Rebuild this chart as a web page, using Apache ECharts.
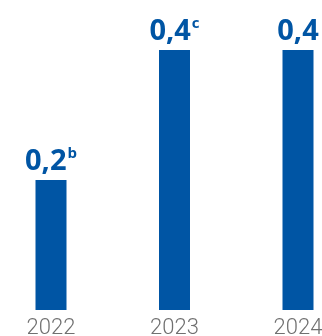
<!DOCTYPE html>
<html>
<head>
<meta charset="utf-8">
<script src="https://cdn.jsdelivr.net/npm/echarts@6/dist/echarts.min.js"></script>
<style>
  html, body { margin: 0; padding: 0; background: #fff; }
  #chart { width: 322px; height: 336px; }
</style>
</head>
<body>
<div id="chart"></div>
<script>
// data
const years = ['2022', '2023', '2024'];
const values = [0.2, 0.4, 0.4];
const labels = ['0,2', '0,4', '0,4'];
const notes = ['b', 'c', ''];

const blue = '#0055a4';

let myChart = echarts.init(document.getElementById('chart'));
myChart.setOption({
  animation: false,
  grid: { left: 51, right: 24, top: 50, bottom: 26, outerBoundsMode: 'none' },
  xAxis: {
    type: 'category',
    boundaryGap: false,
    data: years,
    axisLine: { show: false },
    axisTick: { show: false },
    axisLabel: {
      color: '#707070',
      fontFamily: 'Roboto',
      fontWeight: 300,
      fontSize: 22,
      margin: 7
    }
  },
  yAxis: {
    type: 'value',
    min: 0,
    max: 0.4,
    show: false
  },
  series: [{
    type: 'bar',
    barWidth: 31,
    data: values,
    itemStyle: { color: blue },
    label: {
      show: true,
      position: 'top',
      distance: 2,
      formatter: p => {
        const n = notes[p.dataIndex];
        return '{v|' + labels[p.dataIndex] + '}' + (n ? '{s|' + n + '}' : '');
      },
      rich: {
        v: { color: blue, fontFamily: 'Open Sans', fontWeight: 'bold', fontSize: 29, lineHeight: 32 },
        s: { color: blue, fontFamily: 'Open Sans', fontWeight: 'bold', fontSize: 15, verticalAlign: 'top', lineHeight: 32, padding: [0, 0, 8, 1] }
      }
    }
  }]
});
window.onresize = function () {
  myChart.resize();
};
</script>
</body>
</html>
